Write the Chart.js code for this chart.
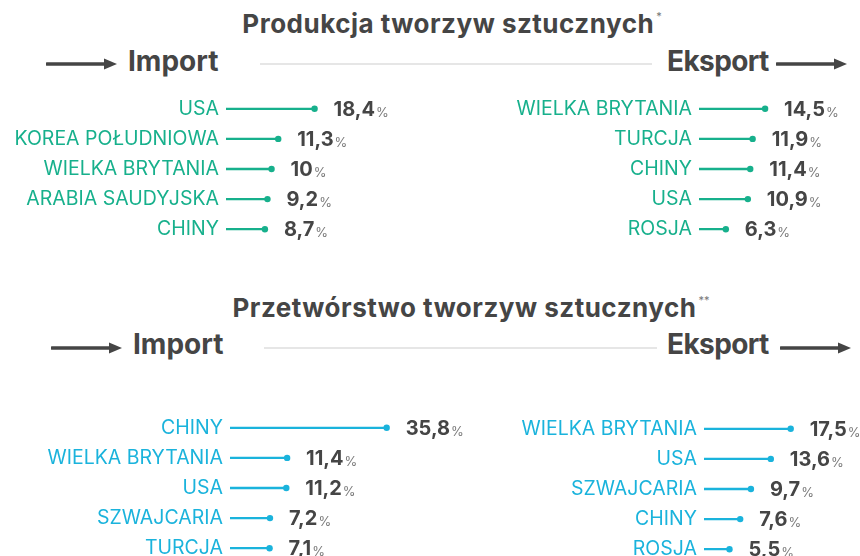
<!DOCTYPE html>
<html lang="pl">
<head>
<meta charset="utf-8">
<script src="https://cdn.jsdelivr.net/npm/chart.js@4.4.1/dist/chart.umd.min.js"></script>
<style>
  body { margin: 0; width: 860px; height: 556px; overflow: hidden; background: #fff; position: relative;
         font-family: Inter, "Open Sans", sans-serif; color: #454545; }
  .title { position: absolute; font-size: 26px; line-height: 26px; font-weight: 700; letter-spacing: 0.5px; white-space: nowrap; transform: translateX(-50%); }
  .star { position: relative; top: -13px; font-size: 11px; font-weight: 400; margin-left: 2px; color: #777; letter-spacing: 0; }
  .dir { position: absolute; font-size: 28px; line-height: 28px; font-weight: 700; white-space: nowrap; }
  .dir.exp { letter-spacing: -0.6px; }
  .rule { position: absolute; height: 2px; background: #e6e6e6; }
  .arrow { position: absolute; width: 72px; height: 14px; }
  .box { position: absolute; }
</style>
</head>
<body>

<div class="title" style="left:452px; top:11px;">Produkcja tworzyw sztucznych<span class="star">*</span></div>
<svg class="arrow" style="left:46px; top:57px;" viewBox="0 0 72 14"><line x1="1" y1="7" x2="60" y2="7" stroke="#454545" stroke-width="3.5" stroke-linecap="round"/><polygon points="58,1.5 71,7 58,12.5" fill="#454545"/></svg>
<div class="dir" style="left:128px; top:47px;">Import</div>
<div class="rule" style="left:260px; width:392px; top:63px;"></div>
<div class="dir exp" style="left:667px; top:47px;">Eksport</div>
<svg class="arrow" style="left:776px; top:57px;" viewBox="0 0 72 14"><line x1="1" y1="7" x2="60" y2="7" stroke="#454545" stroke-width="3.5" stroke-linecap="round"/><polygon points="58,1.5 71,7 58,12.5" fill="#454545"/></svg>

<div class="title" style="left:471px; top:295px;">Przetwórstwo tworzyw sztucznych<span class="star">**</span></div>
<svg class="arrow" style="left:51px; top:341px;" viewBox="0 0 72 14"><line x1="1" y1="7" x2="60" y2="7" stroke="#454545" stroke-width="3.5" stroke-linecap="round"/><polygon points="58,1.5 71,7 58,12.5" fill="#454545"/></svg>
<div class="dir" style="left:133px; top:330px;">Import</div>
<div class="rule" style="left:264px; width:393px; top:347px;"></div>
<div class="dir exp" style="left:667px; top:330px;">Eksport</div>
<svg class="arrow" style="left:780px; top:341px;" viewBox="0 0 72 14"><line x1="1" y1="7" x2="60" y2="7" stroke="#454545" stroke-width="3.5" stroke-linecap="round"/><polygon points="58,1.5 71,7 58,12.5" fill="#454545"/></svg>

<div class="box" style="left:0px; top:75px;"><canvas id="prod-import" width="430" height="188"></canvas></div>
<div class="box" style="left:430px; top:75px;"><canvas id="prod-export" width="430" height="188"></canvas></div>
<div class="box" style="left:0px; top:394px;"><canvas id="proc-import" width="480" height="188"></canvas></div>
<div class="box" style="left:430px; top:395px;"><canvas id="proc-export" width="430" height="188"></canvas></div>

<script>
// Produkcja tworzyw sztucznych - import / eksport (udzial %)
let prodImportCountries = ["USA", "KOREA POŁUDNIOWA", "WIELKA BRYTANIA", "ARABIA SAUDYJSKA", "CHINY"];
let prodImportShares = [18.4, 11.3, 10, 9.2, 8.7];
let prodExportCountries = ["WIELKA BRYTANIA", "TURCJA", "CHINY", "USA", "ROSJA"];
let prodExportShares = [14.5, 11.9, 11.4, 10.9, 6.3];

// Przetworstwo tworzyw sztucznych - import / eksport (udzial %)
let procImportCountries = ["CHINY", "WIELKA BRYTANIA", "USA", "SZWAJCARIA", "TURCJA"];
let procImportShares = [35.8, 11.4, 11.2, 7.2, 7.1];
let procExportCountries = ["WIELKA BRYTANIA", "USA", "SZWAJCARIA", "CHINY", "ROSJA"];
let procExportShares = [17.5, 13.6, 9.7, 7.6, 5.5];

const green = "#17b08c";
const blue = "#1ab3dc";
const fontFamily = "Inter, 'Open Sans', sans-serif";

// dot at the end of each stick + the value with a small % sign
const lollipopPlugin = {
    id: "lollipop",
    afterDatasetsDraw(chart) {
        const ctx = chart.ctx;
        const meta = chart.getDatasetMeta(0);
        const values = chart.data.datasets[0].data;
        const color = chart.data.datasets[0].backgroundColor;
        ctx.save();
        meta.data.forEach((bar, i) => {
            ctx.beginPath();
            ctx.arc(bar.x, bar.y, 3.2, 0, Math.PI * 2);
            ctx.fillStyle = color;
            ctx.fill();

            let txt = String(values[i]).replace(".", ",");
            ctx.textBaseline = "middle";
            ctx.textAlign = "left";
            ctx.font = "700 20px " + fontFamily;
            ctx.fillStyle = "#454545";
            let x = bar.x + 19;
            ctx.fillText(txt, x, bar.y + 1);
            x += ctx.measureText(txt).width + 1;
            ctx.font = "400 13px " + fontFamily;
            ctx.fillStyle = "#7a7a7a";
            ctx.fillText("%", x, bar.y + 4);
        });
        ctx.restore();
    }
};

function lollipop(id, labels, values, color, axisWidth, xMin, pxPerUnit) {
    const canvas = document.getElementById(id);
    const areaWidth = canvas.width - axisWidth;
    return new Chart(canvas, {
        type: "bar",
        data: {
            labels: labels,
            datasets: [{
                data: values,
                backgroundColor: color,
                barThickness: 1.6,
                base: xMin
            }]
        },
        options: {
            indexAxis: "y",
            responsive: false,
            animation: false,
            events: [],
            layout: { padding: 0 },
            plugins: { legend: { display: false }, tooltip: { enabled: false } },
            scales: {
                x: { display: false, min: xMin, max: xMin + areaWidth / pxPerUnit },
                y: {
                    grid: { display: false, drawTicks: false },
                    border: { display: false },
                    ticks: { color: color, padding: 7, font: { family: fontFamily, size: 19.5 } },
                    afterFit: scale => { scale.width = axisWidth; }
                }
            }
        },
        plugins: [lollipopPlugin]
    });
}

lollipop("prod-import", prodImportCountries, prodImportShares, green, 226, 1.1, 5.12);
lollipop("prod-export", prodExportCountries, prodExportShares, green, 269, 0.7, 4.79);
lollipop("proc-import", procImportCountries, procImportShares, blue, 230, -2.6, 4.08);
lollipop("proc-export", procExportCountries, procExportShares, blue, 274, 0.5, 5.1);
</script>
</body>
</html>
